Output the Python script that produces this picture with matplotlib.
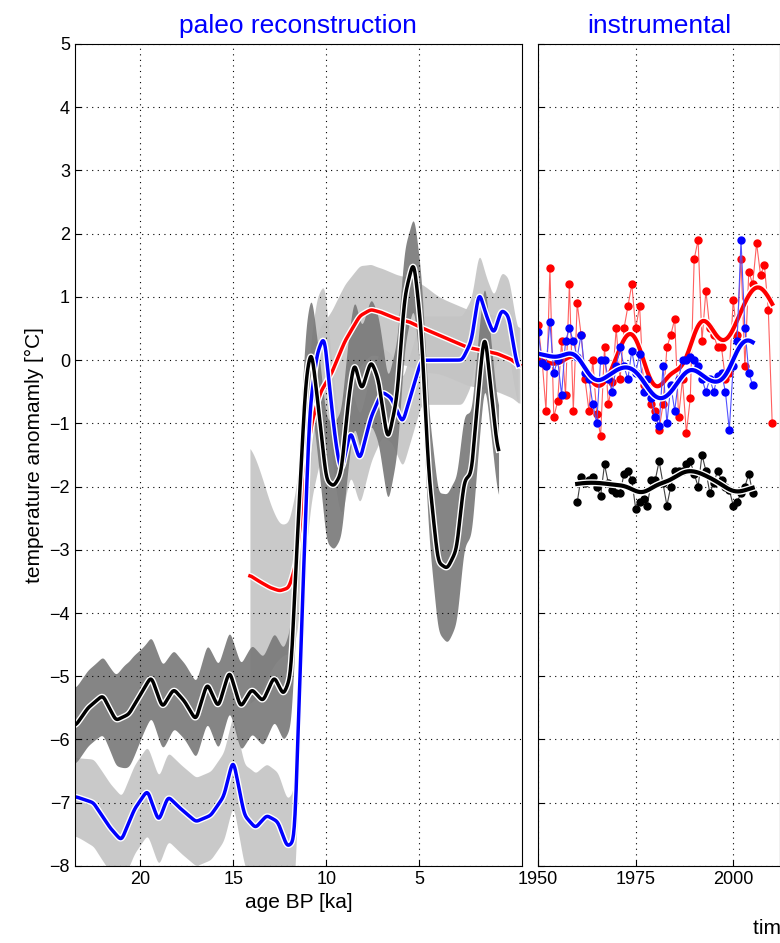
import numpy as np
import matplotlib
matplotlib.use("Agg")
import matplotlib.pyplot as plt
plt.rcParams['font.family'] = ['Liberation Sans', 'DejaVu Sans']

# ---- paleo data (age BP ka) ----
black_age = [23.5,22.8,22,21.3,20.6,20,19.4,18.8,18.2,17.6,17,16.4,15.8,15.2,14.6,14,13.4,12.8,12.3,11.9,11.5,11.1,10.8,10.4,10,9.6,9.2,8.8,8.5,8.1,7.6,7.2,6.7,6.2,5.8,5.3,4.9,4.5,4.0,3.5,3.0,2.6,2.2,1.8,1.5,1.1,0.75]
black_val = [-5.8,-5.5,-5.3,-5.7,-5.6,-5.3,-5.0,-5.5,-5.2,-5.4,-5.7,-5.1,-5.5,-4.9,-5.5,-5.2,-5.4,-5.0,-5.3,-5.0,-2.5,-0.3,0.2,-0.8,-1.9,-2.0,-1.8,-0.6,0.0,-0.5,0.0,-0.3,-1.3,-0.6,1.0,1.6,0.5,-1.8,-3.2,-3.3,-3.0,-1.9,-1.8,-0.4,0.5,-0.6,-1.6]
black_err = [0.6,0.6,0.6,0.7,0.9,0.7,0.6,0.7,0.6,0.6,0.6,0.6,0.7,0.6,0.7,0.7,0.7,0.7,0.7,0.8,0.9,0.9,0.8,0.9,1.0,1.0,1.0,1.0,1.0,1.0,1.0,1.0,1.0,0.9,0.8,0.6,0.9,1.0,1.1,1.2,1.2,1.0,1.0,0.9,0.8,0.7,0.7]
blue_age = [23.5,22.5,21.6,21,20.3,19.6,19,18.5,17.8,17,16.2,15.5,15,14.4,13.8,13.2,12.6,12.1,11.7,11.3,10.9,10.5,10.1,9.8,9.5,9.2,8.7,8.2,7.6,7.0,6.5,5.9,5.3,4.9,4.3,3.5,2.7,2.2,1.8,1.4,1.0,0.6,0.2,-0.3]
blue_val = [-6.9,-7.0,-7.4,-7.6,-7.1,-6.8,-7.3,-6.9,-7.1,-7.3,-7.2,-6.9,-6.3,-7.2,-7.4,-7.2,-7.3,-7.7,-7.6,-4.0,-0.8,0.1,0.4,-0.5,-1.3,-1.8,-1.1,-1.6,-0.9,-0.5,-0.6,-1.0,-0.4,0.0,0.0,0.0,0.0,0.3,1.1,0.7,0.4,0.8,0.7,-0.2]
blue_err = [0.6,0.7,0.7,0.7,0.7,0.7,0.7,0.7,0.7,0.7,0.7,0.7,0.7,0.8,0.9,0.8,0.8,0.7,0.8,1.0,1.0,0.9,0.8,0.8,0.7,0.7,0.7,0.7,0.7,0.7,0.7,0.7,0.7,0.7,0.7,0.7,0.7,0.7,0.6,0.6,0.6,0.6,0.6,0.6]
red_age = [14.1,13.6,13.0,12.5,12.0,11.6,11.2,10.8,10.3,9.7,9.0,8.2,7.6,7.0,6.2,5.5,4.8,4.0,3.2,2.4,1.6,0.8,0.0,-0.4]
red_val = [-3.4,-3.5,-3.6,-3.65,-3.6,-3.2,-2.0,-1.0,-0.5,-0.2,0.3,0.7,0.8,0.75,0.65,0.6,0.5,0.4,0.3,0.2,0.15,0.1,0.0,-0.1]
red_err = [2.2,1.8,1.3,1.0,1.0,1.2,1.4,1.2,1.0,1.0,0.9,0.8,0.7,0.7,0.7,0.7,0.7,0.6,0.6,0.6,0.6,0.6,0.6,0.6]

# ---- instrumental data ----
red_years = list(range(1950, 2011))
red_inst = [0.55,0.0,-0.8,1.45,-0.9,-0.65,0.3,-0.55,1.2,-0.8,0.9,0.4,-0.3,-0.8,0.0,-0.85,-1.2,0.2,-0.7,-0.35,0.5,-0.3,0.5,0.85,1.2,0.5,0.85,-0.4,-0.4,-0.7,-0.8,-1.1,-0.7,0.2,0.4,0.65,-0.9,-0.3,-1.15,-0.6,1.6,1.9,0.3,1.1,0.5,0.4,0.2,0.2,-0.3,-0.2,0.95,0.4,1.6,-0.1,1.4,1.2,1.85,1.35,1.5,0.8,-1.0]
blue_years = list(range(1950, 2006))
blue_inst = [0.45,-0.05,-0.1,0.6,-0.2,0.0,-0.55,0.3,0.5,0.3,0.05,0.4,-0.2,-0.3,-0.7,-1.0,0.0,0.0,-0.3,-0.5,-0.1,0.2,-0.1,-0.3,0.15,-0.2,0.1,-0.5,-0.3,-0.6,-0.9,-1.05,-0.1,-1.0,-0.4,-0.8,-0.3,0.0,0.0,0.05,0.0,-0.1,-0.3,-0.5,-0.3,-0.5,-0.25,-0.2,-0.5,-1.1,-0.1,0.3,1.9,0.5,-0.2,-0.4]
black_years = list(range(1960, 2006))
black_inst = [-2.25,-1.85,-1.95,-1.9,-1.85,-2.0,-2.15,-1.65,-1.95,-2.05,-2.1,-2.1,-1.8,-1.75,-1.9,-2.35,-2.25,-2.2,-2.3,-1.9,-1.9,-1.6,-1.95,-2.3,-2.0,-1.75,-1.75,-1.75,-1.65,-1.6,-1.8,-2.0,-1.5,-1.75,-2.1,-1.95,-1.75,-1.9,-2.0,-2.05,-2.3,-2.25,-2.1,-2.0,-1.8,-2.1]


def smooth_curve(x, y, step, sigma):
    x = np.asarray(x, float); y = np.asarray(y, float)
    order = np.argsort(x)
    x, y = x[order], y[order]
    g = np.arange(x[0], x[-1] + step / 2, step)
    v = np.interp(g, x, y)
    n = int(3 * sigma / step)
    k = np.exp(-0.5 * (np.arange(-n, n + 1) * step / sigma) ** 2)
    num = np.convolve(v, k, mode="same")
    den = np.convolve(np.ones_like(v), k, mode="same")
    return g, num / den


fig = plt.figure(figsize=(7.8, 9.43), dpi=100)
ax1 = fig.add_axes([0.096, 0.0817, 0.573, 0.8717])
ax2 = fig.add_axes([0.69, 0.0817, 0.31, 0.8717])

for ax in (ax1, ax2):
    ax.set_ylim(-8, 5)
    ax.grid(True, color="black", linestyle=(0, (1, 4)), linewidth=0.8)
    ax.tick_params(direction="in", labelsize=13, length=4)

for age, val, err, col in [(blue_age, blue_val, blue_err, "#c4c4c4"),
                           (red_age, red_val, red_err, "#c4c4c4"),
                           (black_age, black_val, black_err, "#787878")]:
    g, v = smooth_curve(age, val, 0.02, 0.09)
    _, e = smooth_curve(age, err, 0.02, 0.3)
    ax1.fill_between(g, v - e, v + e, color=col, lw=0, alpha=0.9)

for age, val, col in [(red_age, red_val, "red"), (blue_age, blue_val, "blue"), (black_age, black_val, "black")]:
    g, v = smooth_curve(age, val, 0.02, 0.09)
    ax1.plot(g, v, color="white", lw=4.5)
    ax1.plot(g, v, color=col, lw=2.5)

ax1.set_xlim(23.5, -0.5)
ax1.set_xticks([20, 15, 10, 5])
ax1.set_yticks(range(-8, 6))
ax1.set_xlabel("age BP [ka]", fontsize=15)
ax1.set_ylabel("temperature anomamly [°C]", fontsize=15)
ax1.set_title("paleo reconstruction", color="blue", fontsize=19, pad=8)

for yrs, vals, col in [(red_years, red_inst, "red"), (blue_years, blue_inst, "blue"), (black_years, black_inst, "black")]:
    lc = {"red": "#ff6060", "blue": "#5050ff", "black": "#404040"}[col]
    ax2.plot(yrs, vals, color=lc, lw=0.8, marker="o", ms=5, mfc=col, mec=col)
    g, v = smooth_curve(yrs, vals, 0.1, 2.7)
    ax2.plot(g, v, color="white", lw=5)
    ax2.plot(g, v, color=col, lw=3)

ax2.set_xlim(1950, 2012)
ax2.set_xticks([1950, 1975, 2000])
ax2.set_yticks(range(-8, 6))
ax2.set_yticklabels([])
ax2.set_title("instrumental", color="blue", fontsize=19, pad=8)
fig.text(0.965, 0.01, "time [yr]", fontsize=15)

fig.savefig("out.png", dpi=100)
